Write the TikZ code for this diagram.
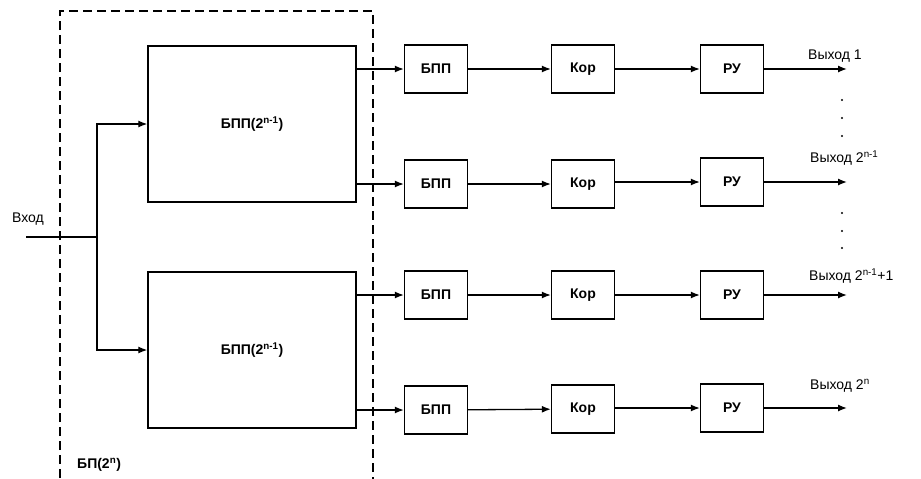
\documentclass[tikz,border=0pt]{standalone}
\usepackage{fontspec}
\setmainfont{Liberation Sans}
\usetikzlibrary{calc, positioning}
\usetikzlibrary{arrows.meta}

\tikzset{
  blk/.style={draw, line width=1.4pt, inner sep=0pt, font=\bfseries\fontsize{14}{16}\selectfont},
  bigblk/.style={blk, minimum width=208pt, minimum height=156pt},
  smallblk/.style={blk, minimum width=63pt, minimum height=48pt},
  arr/.style={line width=1.3pt, -{Latex[length=9pt,width=7pt]}},
  wire/.style={line width=1.3pt},
  lbl/.style={font=\fontsize{14}{16}\selectfont, inner sep=0pt, anchor=west},
  frame/.style={line width=1.3pt, dash pattern=on 9pt off 5pt}
}

\begin{document}
\begin{tikzpicture}[x=1pt,y=-1pt]
\useasboundingbox (0,0) rectangle (921,479);

% outer block
\draw[frame] (60,520) -- (60,11) -- (373,11) -- (373,520);
\node[lbl, font=\bfseries\fontsize{14}{16}\selectfont] (bp) at (77,465) {БП(2\textsuperscript{n})};

% two half-size blocks
\node[bigblk] (top) at (252,124) {БПП(2\textsuperscript{n-1})};
\node[bigblk] (bot) at (252,350) {БПП(2\textsuperscript{n-1})};

% input
\coordinate (in) at (26,237);
\coordinate (split) at (97,237);
\node[lbl] (inlbl) at (12,219) {Вход};
\draw[wire] (in) -- (split);
\draw[arr] (split) |- (top.west);
\draw[arr] (split) |- (bot.west);

% channel 1
\node[smallblk] (b1) at (436,69) {БПП};
\node[smallblk] (k1) at (583,69) {Кор};
\node[smallblk] (r1) at (732,69) {РУ};
\coordinate (o1) at (847,69);
% channel 2^(n-1)
\node[smallblk] (b2) at (436,184) {БПП};
\node[smallblk] (k2) at (583,184) {Кор};
\node[smallblk] (r2) at (732,182) {РУ};
\coordinate (o2) at (847,182);
% channel 2^(n-1)+1
\node[smallblk] (b3) at (436,295) {БПП};
\node[smallblk] (k3) at (583,295) {Кор};
\node[smallblk] (r3) at (732,295) {РУ};
\coordinate (o3) at (847,295);
% channel 2^n
\node[smallblk] (b4) at (436,410) {БПП};
\node[smallblk] (k4) at (583,409) {Кор};
\node[smallblk] (r4) at (732,408) {РУ};
\coordinate (o4) at (847,408);

\draw[arr] (top.east |- b1.west) -- (b1.west);
\draw[arr] (top.east |- b2.west) -- (b2.west);
\draw[arr] (bot.east |- b3.west) -- (b3.west);
\draw[arr] (bot.east |- b4.west) -- (b4.west);

\draw[arr] (b1) -- (k1);
\draw[arr] (b2) -- (k2);
\draw[arr] (b3) -- (k3);
\draw[arr] (b4) -- (k4);

\draw[arr] (k1) -- (r1);
\draw[arr] (k2.east |- r2) -- (r2);
\draw[arr] (k3) -- (r3);
\draw[arr] (k4.east |- r4) -- (r4);

\draw[arr] (r1.east) -- (o1);
\draw[arr] (r2.east) -- (o2);
\draw[arr] (r3.east) -- (o3);
\draw[arr] (r4.east) -- (o4);

\node[lbl] (out1) at (808,56) {Выход 1};
\node[lbl] (out2) at (810,158) {Выход 2\textsuperscript{n-1}};
\node[lbl] (out3) at (809,276) {Выход 2\textsuperscript{n-1}+1};
\node[lbl] (out4) at (810,386) {Выход 2\textsuperscript{n}};

% dots
\fill (842,100) circle (1.2pt);
\fill (842,118) circle (1.2pt);
\fill (842,136) circle (1.2pt);
\fill (842,213) circle (1.2pt);
\fill (842,231) circle (1.2pt);
\fill (842,248) circle (1.2pt);
\end{tikzpicture}
\end{document}
